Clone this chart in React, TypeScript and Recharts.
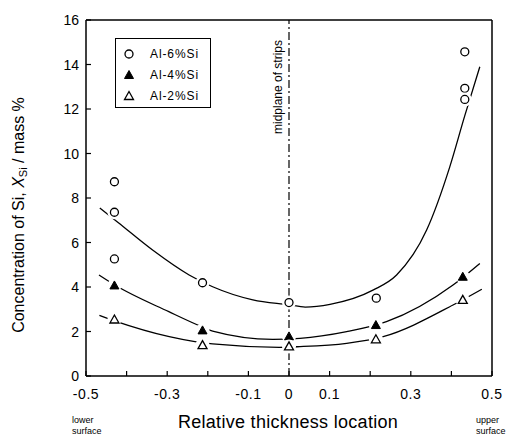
import React from "react";
import { ComposedChart, Line, Scatter, XAxis, YAxis, ReferenceLine, Legend } from "recharts";

const FONT = '"Liberation Sans", Arial, Helvetica, sans-serif';

const xTicks = [-0.5, -0.4, -0.3, -0.2, -0.1, 0, 0.1, 0.2, 0.3, 0.4, 0.5];
const xTickLabels = ["-0.5", "", "-0.3", "", "-0.1", "0", "0.1", "", "0.3", "", "0.5"];
const yTicks = [0, 2, 4, 6, 8, 10, 12, 14, 16];

// measured points
const si6Points = [
  { x: -0.43, y: 8.73 },
  { x: -0.43, y: 7.36 },
  { x: -0.43, y: 5.26 },
  { x: -0.213, y: 4.19 },
  { x: 0, y: 3.3 },
  { x: 0.215, y: 3.5 },
  { x: 0.433, y: 14.57 },
  { x: 0.433, y: 12.93 },
  { x: 0.433, y: 12.43 },
];
const si4Points = [
  { x: -0.43, y: 4.07 },
  { x: -0.213, y: 2.05 },
  { x: 0, y: 1.78 },
  { x: 0.214, y: 2.29 },
  { x: 0.428, y: 4.46 },
];
const si2Points = [
  { x: -0.43, y: 2.54 },
  { x: -0.213, y: 1.39 },
  { x: 0, y: 1.33 },
  { x: 0.214, y: 1.65 },
  { x: 0.428, y: 3.42 },
];

// fitted curves
const si6Curve = [
  { x: -0.466, y: 7.55 },
  { x: -0.421, y: 6.9 },
  { x: -0.336, y: 5.66 },
  { x: -0.246, y: 4.54 },
  { x: -0.188, y: 4.01 },
  { x: -0.089, y: 3.42 },
  { x: 0, y: 3.2 },
  { x: 0.04, y: 3.1 },
  { x: 0.101, y: 3.22 },
  { x: 0.208, y: 3.87 },
  { x: 0.265, y: 4.54 },
  { x: 0.339, y: 6.56 },
  { x: 0.396, y: 9.4 },
  { x: 0.433, y: 11.7 },
  { x: 0.47, y: 13.9 },
];
const si4Curve = [
  { x: -0.468, y: 4.54 },
  { x: -0.43, y: 4.1 },
  { x: -0.296, y: 2.89 },
  { x: -0.213, y: 2.2 },
  { x: -0.188, y: 2.02 },
  { x: -0.04, y: 1.65 },
  { x: 0.027, y: 1.69 },
  { x: 0.142, y: 1.99 },
  { x: 0.24, y: 2.44 },
  { x: 0.404, y: 4.09 },
  { x: 0.47, y: 5.06 },
];
const si2Curve = [
  { x: -0.467, y: 2.72 },
  { x: -0.43, y: 2.48 },
  { x: -0.295, y: 1.77 },
  { x: -0.188, y: 1.44 },
  { x: -0.024, y: 1.29 },
  { x: 0.027, y: 1.32 },
  { x: 0.142, y: 1.47 },
  { x: 0.232, y: 1.77 },
  { x: 0.404, y: 3.19 },
  { x: 0.475, y: 3.9 },
];

const legendItems = [
  { name: "Al-6%Si", marker: "circle" },
  { name: "Al-4%Si", marker: "filled" },
  { name: "Al-2%Si", marker: "open" },
];

function Marker({ cx, cy, kind, halo }: { cx: number; cy: number; kind: string; halo?: boolean }) {
  const tri = `${cx},${cy - 4.5} ${cx + 4.5},${cy + 3.5} ${cx - 4.5},${cy + 3.5}`;
  return (
    <g>
      {halo && <circle cx={cx} cy={cy} r={7} fill="#fff" />}
      {kind === "circle" && <circle cx={cx} cy={cy} r={4} fill="#fff" stroke="#000" strokeWidth={1.3} />}
      {kind === "filled" && <polygon points={tri} fill="#000" stroke="#000" strokeWidth={1} />}
      {kind === "open" && <polygon points={tri} fill="#fff" stroke="#000" strokeWidth={1.3} />}
    </g>
  );
}

const XTick = (props: any) => {
  const { x, y, payload } = props;
  const i = xTicks.findIndex((t) => Math.abs(t - payload.value) < 1e-6);
  return (
    <g>
      <line x1={x} x2={x} y1={y} y2={y - 5} stroke="#000" strokeWidth={1.2} />
      <text x={x} y={y + 23} textAnchor="middle" fontSize={14} letterSpacing={0.6} fontFamily={FONT} fill="#000">
        {xTickLabels[i]}
      </text>
    </g>
  );
};

const YTick = (props: any) => {
  const { x, y, payload } = props;
  return (
    <g>
      <line x1={x} x2={x + 5} y1={y} y2={y} stroke="#000" strokeWidth={1.2} />
      <text x={x - 7} y={y + 5} textAnchor="end" fontSize={14} fontFamily={FONT} fill="#000">
        {payload.value}
      </text>
    </g>
  );
};

const LegendBox = () => (
  <div
    style={{
      border: "1px solid #000",
      width: 96,
      height: 70,
      boxSizing: "border-box",
      background: "#fff",
      fontFamily: FONT,
      fontSize: 12,
      letterSpacing: 0.9,
      paddingTop: 4,
    }}
  >
    {legendItems.map((it) => (
      <div key={it.name} style={{ display: "flex", alignItems: "center", height: 21 }}>
        <svg width={34} height={14}>
          <Marker cx={13} cy={7} kind={it.marker} />
        </svg>
        <span>{it.name}</span>
      </div>
    ))}
  </div>
);

export default function App() {
  return (
    <div style={{ position: "absolute", left: 0, top: 0, width: 506, height: 437, background: "#fff" }}>
      <ComposedChart width={506} height={437} margin={{ top: 20, right: 14, left: 0, bottom: 31 }}>
        <XAxis
          dataKey="x"
          type="number"
          domain={[-0.5, 0.5]}
          ticks={xTicks}
          tick={<XTick />}
          tickLine={false}
          tickSize={0}
          tickMargin={0}
          height={30}
          axisLine={{ stroke: "#000", strokeWidth: 1.5 }}
          allowDataOverflow
        />
        <YAxis
          type="number"
          domain={[0, 16]}
          ticks={yTicks}
          tick={<YTick />}
          tickLine={false}
          tickSize={0}
          tickMargin={0}
          width={86}
          axisLine={{ stroke: "#000", strokeWidth: 1.5 }}
          allowDataOverflow
        />
        <ReferenceLine y={16} stroke="#000" strokeWidth={1.5} />
        <ReferenceLine x={0.5} stroke="#000" strokeWidth={1.5} />
        <ReferenceLine
          x={0}
          stroke="#000"
          strokeWidth={1.2}
          strokeDasharray="8 3 2 3"
          label={{
            content: (p: any) => {
              const vb = p.viewBox || { x: 289, y: 20 };
              const cx = vb.x - 7;
              const cy = 87;
              return (
                <text
                  x={cx}
                  y={cy}
                  transform={`rotate(-90 ${cx} ${cy})`}
                  textAnchor="middle"
                  fontSize={12}
                  fontFamily={FONT}
                  fill="#000"
                >
                  midplane of strips
                </text>
              );
            },
          }}
        />
        <Line data={si6Curve} dataKey="y" type="monotone" stroke="#000" strokeWidth={1.3} dot={false} isAnimationActive={false} legendType="none" />
        <Line data={si4Curve} dataKey="y" type="monotone" stroke="#000" strokeWidth={1.3} dot={false} isAnimationActive={false} legendType="none" />
        <Line data={si2Curve} dataKey="y" type="monotone" stroke="#000" strokeWidth={1.3} dot={false} isAnimationActive={false} legendType="none" />
        <Scatter
          name="Al-6%Si"
          data={si6Points}
          dataKey="y"
          isAnimationActive={false}
          shape={(p: any) => <Marker cx={p.cx} cy={p.cy} kind="circle" halo />}
        />
        <Scatter
          name="Al-4%Si"
          data={si4Points}
          dataKey="y"
          isAnimationActive={false}
          shape={(p: any) => <Marker cx={p.cx} cy={p.cy} kind="filled" halo />}
        />
        <Scatter
          name="Al-2%Si"
          data={si2Points}
          dataKey="y"
          isAnimationActive={false}
          shape={(p: any) => <Marker cx={p.cx} cy={p.cy} kind="open" halo />}
        />
        <Legend
          layout="vertical"
          align="center"
          verticalAlign="middle"
          content={<LegendBox />}
          wrapperStyle={{ position: "absolute", left: 115, top: 38, width: 96, height: 70 }}
        />
      </ComposedChart>
      <svg
        width={506}
        height={437}
        style={{ position: "absolute", left: 0, top: 0, pointerEvents: "none" }}
        fontFamily={FONT}
      >
        <text x={24} y={215} transform="rotate(-90 24 215)" textAnchor="middle" fontSize={16} fill="#000">
          Concentration of Si,{" "}
          <tspan fontStyle="italic">X</tspan>
          <tspan fontSize={11} dy={3}>Si</tspan>
          <tspan dy={-3}> / mass %</tspan>
        </text>
        <text x={288} y={428} textAnchor="middle" fontSize={18} letterSpacing={0.3} fill="#000">
          Relative thickness location
        </text>
        <text x={72} y={423} fontSize={9} fill="#000">lower</text>
        <text x={72} y={434} fontSize={9} fill="#000">surface</text>
        <text x={476} y={423} fontSize={9} fill="#000">upper</text>
        <text x={476} y={434} fontSize={9} fill="#000">surface</text>
      </svg>
    </div>
  );
}
